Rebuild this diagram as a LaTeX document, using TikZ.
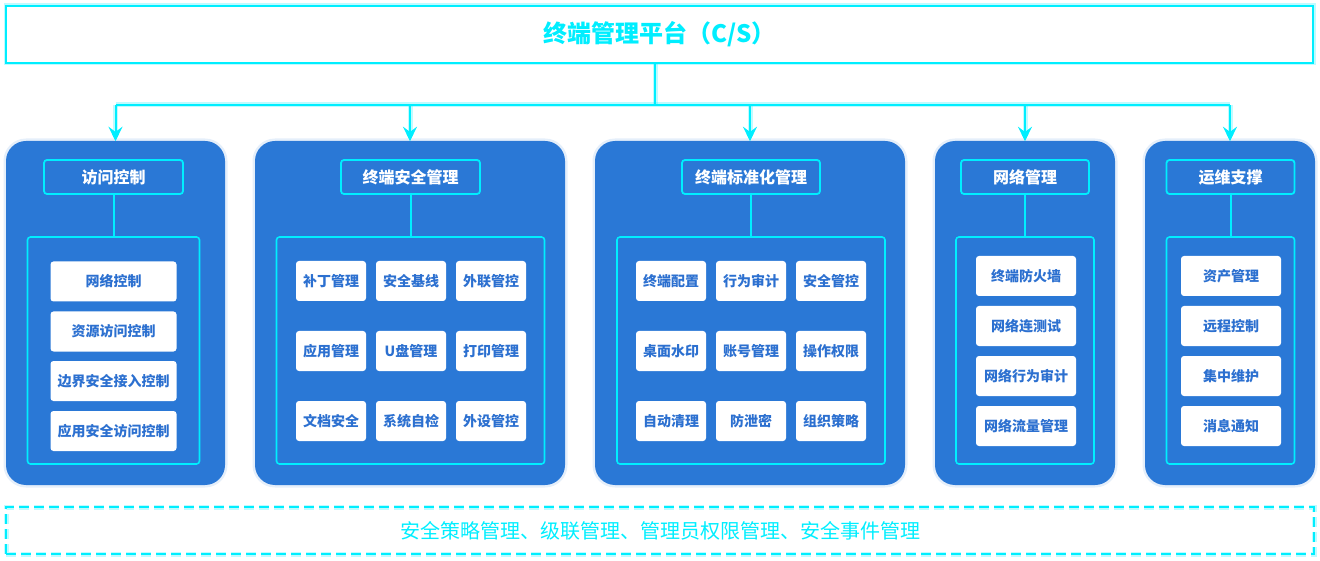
\documentclass[tikz,border=0pt]{standalone}
\usepackage{fontspec}
\setmainfont{Noto Sans CJK SC}
\usepackage{tikz}
\definecolor{linecyan}{RGB}{0,238,255}
\definecolor{panelblue}{RGB}{42,120,214}
\definecolor{itemblue}{RGB}{44,112,208}
\tikzset{
	glow/.style={preaction={draw=linecyan,draw opacity=.25,line width=5pt}},
	conn/.style={draw=linecyan,line width=2pt,glow},
	topbox/.style={draw=linecyan,line width=2pt,fill=white,glow,minimum width=1307pt,minimum height=57pt,text=linecyan,font=\bfseries\fontsize{24}{24}\selectfont},
	panelbox/.style={fill=panelblue,rounded corners=20pt,minimum height=344pt,preaction={draw=panelblue,draw opacity=.12,line width=5pt}},
	headbox/.style={draw=linecyan,line width=1.8pt,rounded corners=3pt,minimum height=34pt,text=white,font=\bfseries\fontsize{16}{16}\selectfont},
	listframe/.style={draw=linecyan,line width=1.6pt,rounded corners=3pt,minimum height=227pt},
	itembox/.style={fill=white,rounded corners=3pt,minimum height=40pt,inner sep=0pt,text=itemblue,font=\bfseries\fontsize{14}{14}\selectfont},
	bottombox/.style={draw=linecyan,line width=2pt,dash pattern=on 10pt off 5pt,preaction={draw=linecyan,draw opacity=.25,line width=5pt,dash pattern=on 10pt off 5pt},minimum width=1308pt,minimum height=47pt,text=linecyan,font=\fontsize{20}{20}\selectfont}
}
\begin{document}
\begin{tikzpicture}[>=stealth,x=1pt,y=-1pt]
	\useasboundingbox (0,0) rectangle (1320,561);
	\node[topbox] (plat) at (659.5,34.5) {终端管理平台（C/S）};
	\coordinate (hub) at (655,105);
	\node[panelbox,minimum width=219pt] (p1) at (115.5,313) {};
	\node[panelbox,minimum width=310pt] (p2) at (410,313) {};
	\node[panelbox,minimum width=310pt] (p3) at (750,313) {};
	\node[panelbox,minimum width=180pt] (p4) at (1025,313) {};
	\node[panelbox,minimum width=170pt] (p5) at (1230,313) {};
	\node[headbox,minimum width=139pt] (t1) at (113.5,177) {访问控制};
	\node[headbox,minimum width=139pt] (t2) at (410.5,177) {终端安全管理};
	\node[headbox,minimum width=138pt] (t3) at (751,177) {终端标准化管理};
	\node[headbox,minimum width=128pt] (t4) at (1025,177) {网络管理};
	\node[headbox,minimum width=128pt] (t5) at (1230.5,177) {运维支撑};
	\node[listframe,minimum width=172pt] (f1) at (113.5,350.5) {};
	\node[listframe,minimum width=268pt] (f2) at (410.5,350.5) {};
	\node[listframe,minimum width=268pt] (f3) at (751,350.5) {};
	\node[listframe,minimum width=138pt] (f4) at (1025,350.5) {};
	\node[listframe,minimum width=128pt] (f5) at (1230.5,350.5) {};
	\node[itembox,minimum width=126pt] (a1) at (113.5,281.5) {网络控制};
	\node[itembox,minimum width=126pt] (a2) at (113.5,331.5) {资源访问控制};
	\node[itembox,minimum width=126pt] (a3) at (113.5,381) {边界安全接入控制};
	\node[itembox,minimum width=126pt] (a4) at (113.5,431) {应用安全访问控制};
	\node[itembox,minimum width=70pt] (b1) at (331,281) {补丁管理};
	\node[itembox,minimum width=70pt] (b2) at (411,281) {安全基线};
	\node[itembox,minimum width=70pt] (b3) at (491,281) {外联管控};
	\node[itembox,minimum width=70pt] (b4) at (331,351) {应用管理};
	\node[itembox,minimum width=70pt] (b5) at (411,351) {U盘管理};
	\node[itembox,minimum width=70pt] (b6) at (491,351) {打印管理};
	\node[itembox,minimum width=70pt] (b7) at (331,421) {文档安全};
	\node[itembox,minimum width=70pt] (b8) at (411,421) {系统自检};
	\node[itembox,minimum width=70pt] (b9) at (491,421) {外设管控};
	\node[itembox,minimum width=70pt] (c1) at (671,281) {终端配置};
	\node[itembox,minimum width=70pt] (c2) at (751,281) {行为审计};
	\node[itembox,minimum width=70pt] (c3) at (831,281) {安全管控};
	\node[itembox,minimum width=70pt] (c4) at (671,351) {桌面水印};
	\node[itembox,minimum width=70pt] (c5) at (751,351) {账号管理};
	\node[itembox,minimum width=70pt] (c6) at (831,351) {操作权限};
	\node[itembox,minimum width=70pt] (c7) at (671,421) {自动清理};
	\node[itembox,minimum width=70pt] (c8) at (751,421) {防泄密};
	\node[itembox,minimum width=70pt] (c9) at (831,421) {组织策略};
	\node[itembox,minimum width=100pt] (d1) at (1026,276) {终端防火墙};
	\node[itembox,minimum width=100pt] (d2) at (1026,326) {网络连测试};
	\node[itembox,minimum width=100pt] (d3) at (1026,376) {网络行为审计};
	\node[itembox,minimum width=100pt] (d4) at (1026,426) {网络流量管理};
	\node[itembox,minimum width=100pt] (e1) at (1231,276) {资产管理};
	\node[itembox,minimum width=100pt] (e2) at (1231,326) {远程控制};
	\node[itembox,minimum width=100pt] (e3) at (1231,376) {集中维护};
	\node[itembox,minimum width=100pt] (e4) at (1231,426) {消息通知};
	\node[bottombox] (base) at (660,530.5) {安全策略管理、级联管理、管理员权限管理、安全事件管理};
	\draw[conn] (plat.south -| hub) -- (hub);
	\draw[conn] (p1.north |- hub) -- (p5.north |- hub);
	\draw[conn,->] (p1.north |- hub) -- (p1.north);
	\draw[conn,->] (p2.north |- hub) -- (p2.north);
	\draw[conn,->] (p3.north |- hub) -- (p3.north);
	\draw[conn,->] (p4.north |- hub) -- (p4.north);
	\draw[conn,->] (p5.north |- hub) -- (p5.north);
	\draw[linecyan,line width=2pt] (t1.south) -- (f1.north);
	\draw[linecyan,line width=2pt] (t2.south) -- (f2.north);
	\draw[linecyan,line width=2pt] (t3.south) -- (f3.north);
	\draw[linecyan,line width=2pt] (t4.south) -- (f4.north);
	\draw[linecyan,line width=2pt] (t5.south) -- (f5.north);
\end{tikzpicture}
\end{document}
